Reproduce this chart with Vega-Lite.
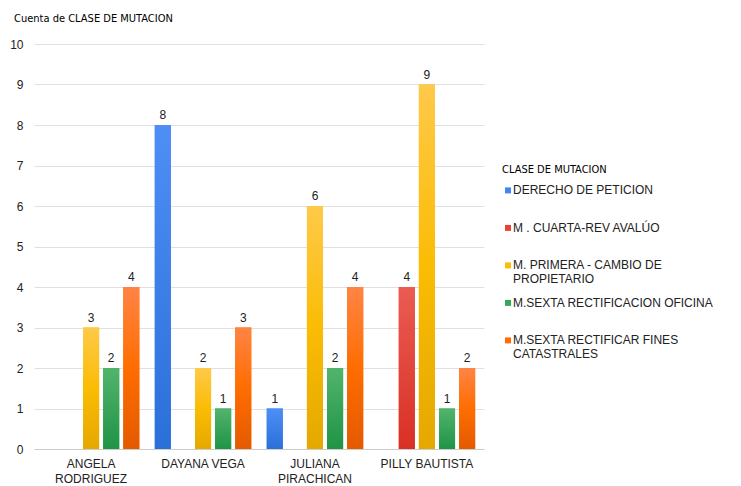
{
  "$schema": "https://vega.github.io/schema/vega-lite/v6.json",
  "width": 450,
  "height": 405,
  "autosize": {"type": "none"},
  "padding": {"left": 34, "top": 44, "right": 257, "bottom": 37},
  "background": "white",
  "config": {"font": "Liberation Sans", "view": {"stroke": null}},
  "title": {"text": "Cuenta de CLASE DE MUTACION", "anchor": "start", "frame": "group", "dx": -20, "offset": 14, "fontSize": 11, "fontWeight": "normal", "color": "#000", "font": "DejaVu Sans Condensed"},
  "data": {"values": [
    {"nombre": "ANGELA RODRIGUEZ", "clase": "M. PRIMERA - CAMBIO DE PROPIETARIO", "cuenta": 3},
    {"nombre": "ANGELA RODRIGUEZ", "clase": "M.SEXTA RECTIFICACION OFICINA", "cuenta": 2},
    {"nombre": "ANGELA RODRIGUEZ", "clase": "M.SEXTA RECTIFICAR FINES CATASTRALES", "cuenta": 4},
    {"nombre": "DAYANA VEGA", "clase": "DERECHO DE PETICION", "cuenta": 8},
    {"nombre": "DAYANA VEGA", "clase": "M. PRIMERA - CAMBIO DE PROPIETARIO", "cuenta": 2},
    {"nombre": "DAYANA VEGA", "clase": "M.SEXTA RECTIFICACION OFICINA", "cuenta": 1},
    {"nombre": "DAYANA VEGA", "clase": "M.SEXTA RECTIFICAR FINES CATASTRALES", "cuenta": 3},
    {"nombre": "JULIANA PIRACHICAN", "clase": "DERECHO DE PETICION", "cuenta": 1},
    {"nombre": "JULIANA PIRACHICAN", "clase": "M. PRIMERA - CAMBIO DE PROPIETARIO", "cuenta": 6},
    {"nombre": "JULIANA PIRACHICAN", "clase": "M.SEXTA RECTIFICACION OFICINA", "cuenta": 2},
    {"nombre": "JULIANA PIRACHICAN", "clase": "M.SEXTA RECTIFICAR FINES CATASTRALES", "cuenta": 4},
    {"nombre": "PILLY BAUTISTA", "clase": "M . CUARTA-REV AVALÚO", "cuenta": 4},
    {"nombre": "PILLY BAUTISTA", "clase": "M. PRIMERA - CAMBIO DE PROPIETARIO", "cuenta": 9},
    {"nombre": "PILLY BAUTISTA", "clase": "M.SEXTA RECTIFICACION OFICINA", "cuenta": 1},
    {"nombre": "PILLY BAUTISTA", "clase": "M.SEXTA RECTIFICAR FINES CATASTRALES", "cuenta": 2}
  ]},
  "encoding": {
    "x": {"field": "nombre", "type": "nominal", "title": null,
      "scale": {"paddingInner": 0.12, "paddingOuter": 0.07},
      "axis": {"labelAngle": 0, "labelFontSize": 12, "labelColor": "#222", "ticks": false, "domainColor": "#cccccc", "labelPadding": 9,
        "labelExpr": "datum.label == 'ANGELA RODRIGUEZ' ? ['ANGELA', 'RODRIGUEZ'] : datum.label == 'JULIANA PIRACHICAN' ? ['JULIANA', 'PIRACHICAN'] : datum.label", "labelLineHeight": 15}},
    "xOffset": {"field": "clase", "type": "nominal",
      "scale": {"domain": ["DERECHO DE PETICION", "M . CUARTA-REV AVALÚO", "M. PRIMERA - CAMBIO DE PROPIETARIO", "M.SEXTA RECTIFICACION OFICINA", "M.SEXTA RECTIFICAR FINES CATASTRALES"], "paddingInner": 0.2, "paddingOuter": 0.05}},
    "y": {"field": "cuenta", "type": "quantitative", "title": null,
      "scale": {"domain": [0, 10]},
      "axis": {"values": [0,1,2,3,4,5,6,7,8,9,10], "labelFontSize": 12, "labelColor": "#222", "ticks": false, "domain": false, "gridColor": "#e0e0e0", "labelPadding": 11}}
  },
  "layer": [
    {
      "mark": {"type": "bar"},
      "encoding": {
        "color": {"field": "clase", "type": "nominal", "title": "CLASE DE MUTACION",
          "scale": {"domain": ["DERECHO DE PETICION", "M . CUARTA-REV AVALÚO", "M. PRIMERA - CAMBIO DE PROPIETARIO", "M.SEXTA RECTIFICACION OFICINA", "M.SEXTA RECTIFICAR FINES CATASTRALES"],
            "range": ["#4285f4", "#ea4335", "#fbbc04", "#34a853", "#ff6d01"]},
          "legend": {"orient": "none", "legendX": 468, "legendY": 120, "titleFontSize": 11, "titleFontWeight": "normal", "titleColor": "#000", "titleFont": "DejaVu Sans Condensed", "titlePadding": 4,
            "labelFontSize": 12, "labelColor": "#222", "labelLimit": 260, "symbolType": "M-1,0.8H1V2.8H-1Z", "symbolSize": 36, "symbolStrokeWidth": 0, "labelOffset": -1, "rowPadding": 6.5, "labelLineHeight": 15, "labelBaseline": "top",
            "labelExpr": "datum.label == 'M. PRIMERA - CAMBIO DE PROPIETARIO' ? ['M. PRIMERA - CAMBIO DE', 'PROPIETARIO'] : datum.label == 'M.SEXTA RECTIFICAR FINES CATASTRALES' ? ['M.SEXTA RECTIFICAR FINES', 'CATASTRALES'] : [datum.label, ' ']"}
        }
      }
    },
    {
      "transform": [{"filter": "datum.clase == 'DERECHO DE PETICION'"}],
      "mark": {"type": "bar", "color": {"gradient": "linear", "x1": 0, "y1": 0, "x2": 0, "y2": 1, "stops": [{"offset": 0, "color": "#4d8ff5"}, {"offset": 1, "color": "#2b6fd9"}]}}
    },
    {
      "transform": [{"filter": "datum.clase == 'M . CUARTA-REV AVALÚO'"}],
      "mark": {"type": "bar", "color": {"gradient": "linear", "x1": 0, "y1": 0, "x2": 0, "y2": 1, "stops": [{"offset": 0, "color": "#ea5c52"}, {"offset": 1, "color": "#d93025"}]}}
    },
    {
      "transform": [{"filter": "datum.clase == 'M. PRIMERA - CAMBIO DE PROPIETARIO'"}],
      "mark": {"type": "bar", "color": {"gradient": "linear", "x1": 0, "y1": 0, "x2": 0, "y2": 1, "stops": [{"offset": 0, "color": "#ffc94a"}, {"offset": 0.5, "color": "#fbbc04"}, {"offset": 1, "color": "#e5a800"}]}}
    },
    {
      "transform": [{"filter": "datum.clase == 'M.SEXTA RECTIFICACION OFICINA'"}],
      "mark": {"type": "bar", "color": {"gradient": "linear", "x1": 0, "y1": 0, "x2": 0, "y2": 1, "stops": [{"offset": 0, "color": "#52b46c"}, {"offset": 1, "color": "#1f9446"}]}}
    },
    {
      "transform": [{"filter": "datum.clase == 'M.SEXTA RECTIFICAR FINES CATASTRALES'"}],
      "mark": {"type": "bar", "color": {"gradient": "linear", "x1": 0, "y1": 0, "x2": 0, "y2": 1, "stops": [{"offset": 0, "color": "#ff8444"}, {"offset": 0.5, "color": "#ff6d01"}, {"offset": 1, "color": "#e45a00"}]}}
    },
    {
      "mark": {"type": "text", "dy": -10, "fontSize": 12, "color": "#222"},
      "encoding": {"text": {"field": "cuenta", "type": "quantitative"}}
    }
  ]
}
